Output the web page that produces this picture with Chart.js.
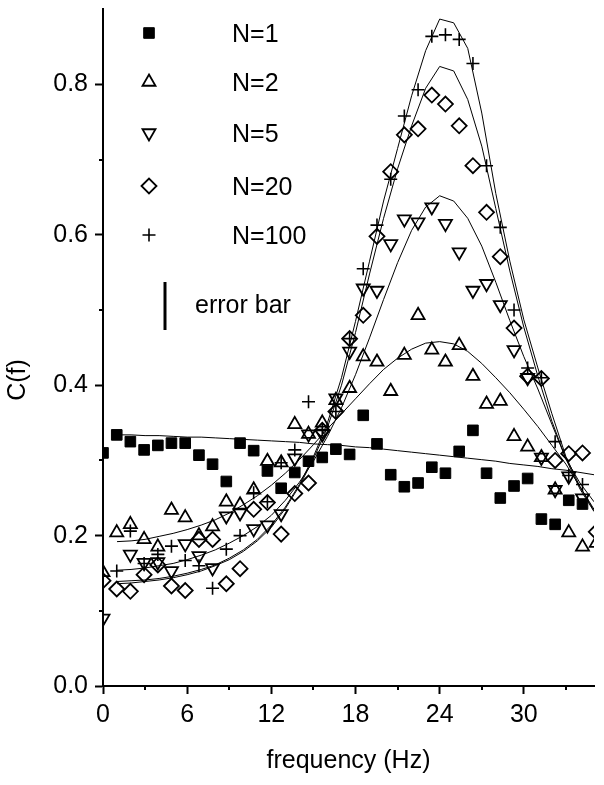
<!DOCTYPE html>
<html>
<head>
<meta charset="utf-8">
<script src="https://cdn.jsdelivr.net/npm/chart.js@4.4.1/dist/chart.umd.min.js"></script>
<style>
  html, body { margin: 0; padding: 0; background: #fff; }
  #wrap { width: 604px; height: 785px; }
</style>
</head>
<body>
<div id="wrap"><canvas id="chart" width="604" height="785"></canvas></div>
<script>
// Frequency bins of the measured points (Hz)
const freq = [0, 0.98, 1.95, 2.93, 3.91, 4.88, 5.86, 6.84, 7.81, 8.79, 9.77, 10.74,
  11.72, 12.70, 13.67, 14.65, 15.63, 16.60, 17.58, 18.55, 19.53, 20.51, 21.48, 22.46,
  23.44, 24.41, 25.39, 26.37, 27.34, 28.32, 29.30, 30.27, 31.25, 32.23, 33.20, 34.18, 35.16];

// Measured C(f) per N
const cN1 = [0.310, 0.334, 0.325, 0.314, 0.320, 0.323, 0.323, 0.307, 0.295, 0.272, 0.323, 0.313,
  0.286, 0.263, 0.284, 0.299, 0.304, 0.315, 0.308, 0.360, 0.322, 0.281, 0.265, 0.270,
  0.291, 0.283, 0.312, 0.340, 0.283, 0.250, 0.266, 0.276, 0.222, 0.215, 0.247, 0.242, null];
const cN2 = [0.151, 0.204, 0.215, 0.195, 0.185, 0.234, 0.224, 0.200, 0.212, 0.245, 0.241, 0.261,
  0.299, 0.297, 0.348, 0.335, 0.350, 0.380, 0.396, 0.438, 0.431, 0.392, 0.440, 0.493,
  0.447, 0.431, 0.453, 0.412, 0.375, 0.379, 0.332, 0.318, 0.304, 0.261, 0.204, 0.185, 0.190];
const cN5 = [0.090, null, 0.175, 0.164, 0.165, 0.153, 0.189, 0.173, 0.157, 0.226, 0.230, 0.209,
  0.214, 0.229, 0.303, 0.335, 0.335, 0.383, 0.445, 0.529, 0.526, 0.588, 0.621, 0.617,
  0.637, 0.615, 0.577, 0.526, 0.535, 0.507, 0.447, 0.410, 0.304, 0.261, 0.279, 0.250, null];
const cN20 = [0.140, 0.129, 0.126, 0.148, 0.161, 0.133, 0.127, 0.195, 0.195, 0.136, 0.156, 0.235,
  0.244, 0.202, 0.256, 0.270, 0.340, 0.365, 0.462, 0.493, 0.598, 0.684, 0.733, 0.741,
  0.786, 0.774, 0.745, 0.692, 0.630, 0.571, 0.476, 0.412, 0.409, 0.300, 0.309, 0.310, 0.205];
const cN100 = [null, 0.153, 0.206, 0.163, 0.175, 0.186, 0.167, 0.160, 0.130, 0.182, 0.200, 0.257,
  0.245, 0.297, 0.314, 0.378, 0.341, 0.365, 0.462, 0.555, 0.613, 0.674, 0.758, 0.793,
  0.864, 0.866, 0.860, 0.828, 0.692, 0.610, 0.500, 0.423, 0.410, 0.325, 0.280, 0.268, null];

// Fitted curves
const fitFreq = [1, 2, 3, 4, 5, 6, 7, 8, 9, 10, 11, 12, 13, 14, 15, 16, 17, 18,
  19, 20, 21, 22, 23, 24, 25, 26, 27, 28, 29, 30, 31, 32, 33, 34, 35];
const fitN1 = [0.334, 0.334, 0.333, 0.333, 0.332, 0.331, 0.331, 0.330, 0.329, 0.328, 0.327, 0.326,
  0.325, 0.324, 0.322, 0.321, 0.320, 0.318, 0.317, 0.315, 0.313, 0.311, 0.309, 0.307,
  0.305, 0.303, 0.301, 0.299, 0.296, 0.294, 0.292, 0.289, 0.287, 0.284, 0.281];
const fitN2 = [0.192, 0.193, 0.195, 0.199, 0.203, 0.208, 0.214, 0.221, 0.230, 0.241, 0.253, 0.267,
  0.283, 0.301, 0.321, 0.342, 0.362, 0.382, 0.402, 0.421, 0.436, 0.448, 0.456, 0.458,
  0.455, 0.445, 0.429, 0.410, 0.390, 0.368, 0.345, 0.320, 0.295, 0.265, 0.233];
const fitN5 = [0.154, 0.155, 0.157, 0.160, 0.163, 0.168, 0.174, 0.181, 0.190, 0.200, 0.212, 0.227,
  0.247, 0.271, 0.299, 0.332, 0.370, 0.414, 0.463, 0.514, 0.563, 0.606, 0.637, 0.652,
  0.645, 0.622, 0.585, 0.537, 0.486, 0.438, 0.395, 0.348, 0.302, 0.270, 0.245];
const fitN20 = [0.136, 0.137, 0.139, 0.141, 0.144, 0.148, 0.153, 0.160, 0.168, 0.179, 0.193, 0.211,
  0.236, 0.266, 0.302, 0.344, 0.400, 0.470, 0.548, 0.622, 0.688, 0.745, 0.795, 0.824,
  0.818, 0.780, 0.718, 0.635, 0.552, 0.477, 0.412, 0.352, 0.302, 0.262, 0.232];
const fitN100 = [0.139, 0.140, 0.141, 0.143, 0.146, 0.150, 0.155, 0.161, 0.170, 0.181, 0.195, 0.214,
  0.238, 0.268, 0.305, 0.350, 0.410, 0.485, 0.565, 0.645, 0.715, 0.785, 0.845, 0.887,
  0.882, 0.848, 0.762, 0.655, 0.565, 0.487, 0.423, 0.362, 0.305, 0.265, 0.235];

const seriesLabels = ['N=1', 'N=2', 'N=5', 'N=20', 'N=100'];
const xMinorTicks = [3, 9, 15, 21, 27, 33];
const yMinorTicks = [0.1, 0.3, 0.5, 0.7];

const FONT = '"Liberation Sans", Arial, Helvetica, sans-serif';

// marker look per series
const markers = [
  { pointStyle: 'rect', radius: 7.5, rotation: 0, fill: '#000', width: 1 },
  { pointStyle: 'triangle', radius: 7.5, rotation: 0, fill: 'rgba(0,0,0,0)', width: 1.8 },
  { pointStyle: 'triangle', radius: 7.5, rotation: 180, fill: 'rgba(0,0,0,0)', width: 1.8 },
  { pointStyle: 'rectRot', radius: 7.5, rotation: 0, fill: 'rgba(0,0,0,0)', width: 1.8 },
  { pointStyle: 'cross', radius: 6.5, rotation: 0, fill: 'rgba(0,0,0,0)', width: 1.6 }
];

const toPoints = (xs, ys) => xs.map((x, i) => ({ x: x, y: ys[i] })).filter(p => p.y !== null);

const measured = [cN1, cN2, cN5, cN20, cN100];
const fits = [fitN1, fitN2, fitN5, fitN20, fitN100];

const datasets = [];
measured.forEach((vals, k) => {
  const m = markers[k];
  datasets.push({
    label: seriesLabels[k],
    data: toPoints(freq, vals),
    showLine: false,
    pointStyle: m.pointStyle,
    pointRadius: m.radius,
    pointRotation: m.rotation,
    pointBackgroundColor: m.fill,
    pointBorderColor: '#000',
    pointBorderWidth: m.width
  });
});
fits.forEach((vals, k) => {
  datasets.push({
    label: seriesLabels[k] + ' fit',
    data: toPoints(fitFreq, vals),
    showLine: true,
    borderColor: '#000',
    borderWidth: 1,
    pointRadius: 0,
    tension: 0
  });
});

// Legend, y title and minor ticks
const decorPlugin = {
  id: 'decor',
  afterDraw(chart) {
    const ctx = chart.ctx;
    const area = chart.chartArea;
    const xs = chart.scales.x, ys = chart.scales.y;
    ctx.save();

    // minor ticks
    ctx.strokeStyle = '#000';
    ctx.lineWidth = 2;
    ctx.beginPath();
    yMinorTicks.forEach(v => {
      const py = Math.round(ys.getPixelForValue(v));
      ctx.moveTo(area.left - 4, py);
      ctx.lineTo(area.left, py);
    });
    xMinorTicks.forEach(v => {
      const px = Math.round(xs.getPixelForValue(v));
      ctx.moveTo(px, area.bottom);
      ctx.lineTo(px, area.bottom + 4);
    });
    ctx.stroke();

    // legend
    const rowY = [33, 82, 133, 186, 235];
    const symX = area.left + 46;
    const textX = area.left + 129;
    ctx.font = '25px ' + FONT;
    ctx.textBaseline = 'middle';
    ctx.textAlign = 'left';
    seriesLabels.forEach((lab, k) => {
      const m = markers[k];
      ctx.fillStyle = m.fill;
      ctx.strokeStyle = '#000';
      ctx.lineWidth = m.width;
      Chart.helpers.drawPoint(ctx, {
        pointStyle: m.pointStyle, radius: m.radius, rotation: m.rotation, borderWidth: m.width
      }, symX, rowY[k]);
      ctx.fillStyle = '#000';
      ctx.fillText(lab, textX, rowY[k] + 2);
    });

    // error bar sample
    ctx.lineWidth = 3;
    ctx.beginPath();
    ctx.moveTo(area.left + 62, 282);
    ctx.lineTo(area.left + 62, 330);
    ctx.stroke();
    ctx.fillText('error bar', area.left + 92, 306);

    // y title
    ctx.translate(18, 380);
    ctx.rotate(-Math.PI / 2);
    ctx.textAlign = 'center';
    ctx.fillText('C(f)', 0, 0);
    ctx.restore();
  }
};

new Chart(document.getElementById('chart'), {
  type: 'scatter',
  data: { datasets: datasets },
  options: {
    responsive: false,
    animation: false,
    events: [],
    layout: { padding: { left: 0, right: 10, top: 6, bottom: 0 } },
    plugins: {
      legend: { display: false },
      tooltip: { enabled: false }
    },
    scales: {
      x: {
        type: 'linear',
        min: 0,
        max: 35,
        afterFit: scale => {
          scale.height = 99;
          scale.paddingLeft = 0;
          scale.paddingRight = 0;
        },
        border: { display: true, color: '#000', width: 2 },
        grid: { drawOnChartArea: false, drawTicks: true, tickLength: 8, tickWidth: 2, tickColor: '#000' },
        ticks: {
          stepSize: 6,
          includeBounds: false,
          padding: 6,
          color: '#000',
          font: { family: FONT, size: 25 },
          maxRotation: 0
        },
        title: {
          display: true,
          text: 'frequency (Hz)',
          color: '#000',
          font: { family: FONT, size: 25 },
          padding: { top: 0, bottom: 9 }
        }
      },
      y: {
        type: 'linear',
        min: 0,
        max: 0.9,
        afterFit: scale => {
          scale.width = 103;
          scale.paddingTop = 0;
          scale.paddingBottom = 0;
        },
        border: { display: true, color: '#000', width: 2 },
        grid: { drawOnChartArea: false, drawTicks: true, tickLength: 8, tickWidth: 2, tickColor: '#000' },
        ticks: {
          stepSize: 0.2,
          includeBounds: false,
          padding: 7,
          color: '#000',
          font: { family: FONT, size: 25 },
          callback: v => v.toFixed(1)
        }
      }
    }
  },
  plugins: [decorPlugin]
});
</script>
</body>
</html>
